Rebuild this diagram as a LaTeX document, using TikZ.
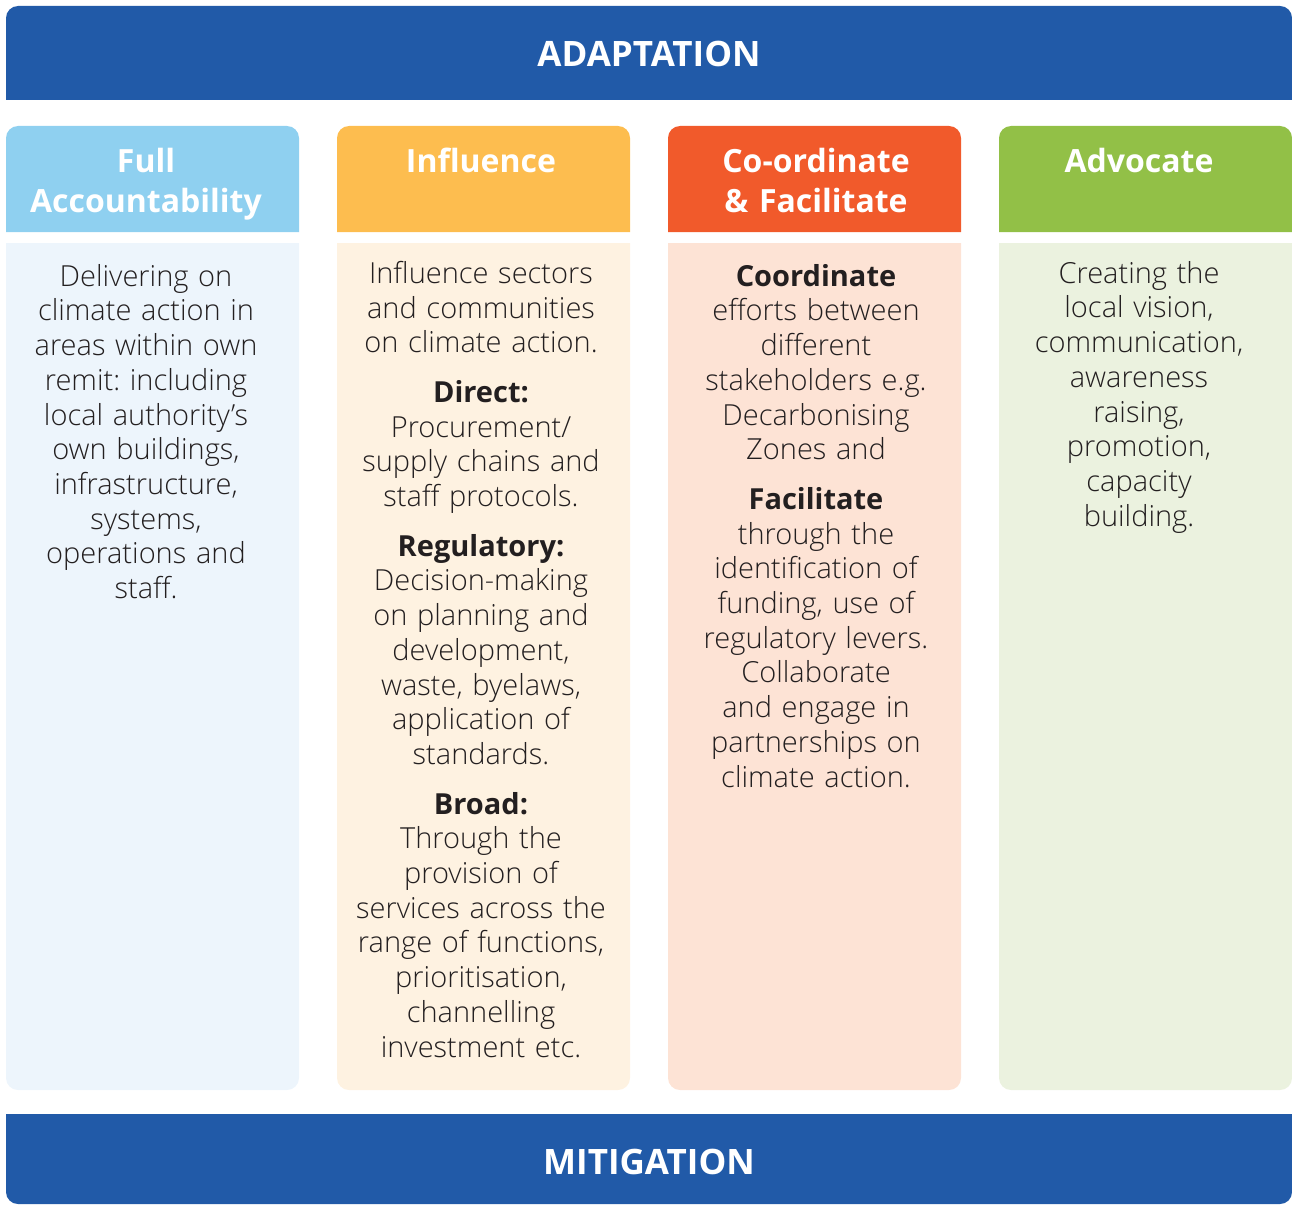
\documentclass[tikz,border=0pt]{standalone}
\usepackage{fontspec}
\setmainfont{Open Sans}
\newfontfamily\lightfont{Open Sans Light}
\usetikzlibrary{positioning}
\frenchspacing
\definecolor{bandblue}{RGB}{33,90,168}
\definecolor{inktext}{RGB}{35,31,32}
\definecolor{fullhead}{RGB}{143,208,240}
\definecolor{fullbody}{RGB}{237,245,252}
\definecolor{inflhead}{RGB}{253,189,79}
\definecolor{inflbody}{RGB}{254,242,225}
\definecolor{coorhead}{RGB}{241,90,43}
\definecolor{coorbody}{RGB}{253,227,213}
\definecolor{advohead}{RGB}{146,192,71}
\definecolor{advobody}{RGB}{235,242,223}
\newcommand\lead[1]{{\rmfamily\bfseries #1}}

\tikzset{
  bandtext/.style={white,font=\fontsize{35}{40}\selectfont\bfseries},
  headtext/.style={anchor=north,white,align=center,text width=290,inner sep=0,
    font=\fontsize{32}{40}\selectfont\bfseries},
  bodytext/.style={anchor=north,inktext,align=center,text width=292,inner sep=0,
    font=\fontsize{29}{34.7}\selectfont\lightfont}
}

\begin{document}
\begin{tikzpicture}[x=1pt,y=-1pt]
\useasboundingbox (0,0) rectangle (1292,1204);

% Top and bottom bands
\fill[bandblue] (6,100) [rounded corners=12] -- (6,6) -- (1292,6) [sharp corners] -- (1292,100) -- cycle;
\fill[bandblue] (6,1114) [rounded corners=12] -- (6,1204) -- (1292,1204) [sharp corners] -- (1292,1114) -- cycle;
\node[bandtext] (adapt) at (649,54) {ADAPTATION};
\node[bandtext] (mitig) at (649,1162) {MITIGATION};

% Column headers and bodies
\foreach \x/\col in {6/full, 337/infl, 668/coor, 999/advo} {
    \fill[\col head] (\x,232) [rounded corners=12] -- (\x,126) -- (\x+293,126) [sharp corners] -- (\x+293,232) -- cycle;
    \fill[\col body] (\x,243) [rounded corners=12] -- (\x,1090) -- (\x+293,1090) [sharp corners] -- (\x+293,243) -- cycle;
}

% Header titles
\node[headtext] (fullttl) at (146,148) {Full\\Accountability};
\node[headtext] (inflttl) at (481,148) {Influence};
\node[headtext] (coorttl) at (816,148) {Co-ordinate\\\& Facilitate};
\node[headtext] (advottl) at (1139,148) {Advocate};

% Column texts
\node[bodytext] (fulltxt) at (146,264) {Delivering on\\climate action in\\areas within own\\remit: including\\local authority’s\\own buildings,\\infrastructure,\\systems,\\operations and\\staff.};

\node[bodytext] (infltxt) at (481,261) {Influence sectors\\and communities\\on climate action.\\[15pt]
  \lead{Direct:}\\Procurement/\\supply chains and\\staff protocols.\\[15pt]
  \lead{Regulatory:}\\Decision-making\\on planning and\\development,\\waste, byelaws,\\application of\\standards.\\[15pt]
  \lead{Broad:}\\Through the\\provision of\\services across the\\range of functions,\\prioritisation,\\channelling\\investment etc.};

\node[bodytext] (coortxt) at (816,264) {\lead{Coordinate}\\efforts between\\different\\stakeholders e.g.\\Decarbonising\\Zones and\\[15pt]
  \lead{Facilitate}\\through the\\identification of\\funding, use of\\regulatory levers.\\Collaborate\\and engage in\\partnerships on\\climate action.};

\node[bodytext] (advotxt) at (1139,261) {Creating the\\local vision,\\communication,\\awareness\\raising,\\promotion,\\capacity\\building.};

\end{tikzpicture}
\end{document}
